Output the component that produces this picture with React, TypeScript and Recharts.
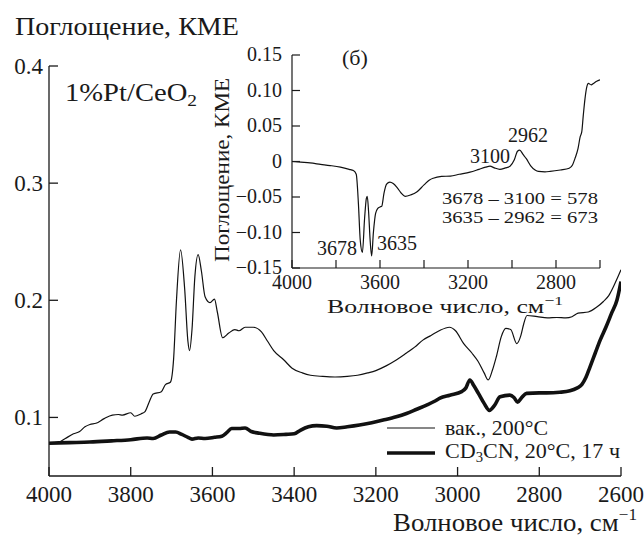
import React from 'react';
import { LineChart, Line, XAxis, YAxis } from 'recharts';

const SERIF = '"Liberation Serif", "Times New Roman", Times, serif';
const INK = '#1a1a1a';

// main chart: вак., 200°C (thin)
const vacX = [4000, 3975, 3960, 3940, 3925, 3912, 3900, 3885, 3865, 3845, 3830, 3820, 3800, 3790, 3775, 3765, 3755, 3745, 3725, 3715, 3703, 3695, 3688, 3678, 3668, 3660, 3656, 3650, 3643, 3635, 3627, 3618, 3606, 3595, 3588, 3575, 3560, 3545, 3535, 3520, 3500, 3480, 3465, 3450, 3425, 3405, 3380, 3360, 3330, 3300, 3270, 3245, 3220, 3200, 3175, 3150, 3125, 3105, 3085, 3065, 3045, 3020, 3005, 2985, 2965, 2950, 2935, 2925, 2915, 2905, 2893, 2882, 2870, 2855, 2845, 2838, 2830, 2805, 2780, 2757, 2735, 2720, 2705, 2680, 2660, 2643, 2630, 2618, 2600];
const vacY = [0.078, 0.079, 0.082, 0.086, 0.088, 0.092, 0.094, 0.095, 0.099, 0.102, 0.1025, 0.102, 0.104, 0.101, 0.103, 0.105, 0.113, 0.12, 0.122, 0.128, 0.13, 0.15, 0.2, 0.243, 0.21, 0.165, 0.157, 0.175, 0.22, 0.239, 0.225, 0.203, 0.198, 0.201, 0.19, 0.168, 0.172, 0.175, 0.174, 0.177, 0.177, 0.173, 0.165, 0.157, 0.149, 0.142, 0.138, 0.136, 0.135, 0.1345, 0.135, 0.136, 0.138, 0.14, 0.144, 0.149, 0.155, 0.16, 0.166, 0.17, 0.174, 0.177, 0.174, 0.163, 0.155, 0.148, 0.138, 0.132, 0.14, 0.152, 0.169, 0.176, 0.175, 0.163, 0.17, 0.18, 0.187, 0.186, 0.185, 0.1853, 0.185, 0.186, 0.189, 0.19, 0.194, 0.199, 0.204, 0.212, 0.226];

// main chart: CD3CN, 20°C, 17 ч (thick)
const cdX = [4000, 3950, 3900, 3847, 3800, 3760, 3745, 3725, 3705, 3690, 3675, 3660, 3650, 3635, 3618, 3595, 3577, 3565, 3553, 3535, 3520, 3505, 3485, 3450, 3420, 3400, 3385, 3365, 3345, 3320, 3296, 3270, 3240, 3210, 3182, 3150, 3125, 3100, 3076, 3055, 3043, 3019, 2990, 2980, 2970, 2960, 2949, 2935, 2922, 2910, 2896, 2872, 2862, 2853, 2843, 2831, 2800, 2782, 2750, 2725, 2708, 2696, 2686, 2676, 2663, 2651, 2637, 2623, 2610, 2600];
const cdY = [0.078, 0.0785, 0.079, 0.08, 0.081, 0.0825, 0.082, 0.085, 0.0875, 0.0875, 0.0855, 0.083, 0.0815, 0.0825, 0.082, 0.083, 0.084, 0.087, 0.0905, 0.0905, 0.091, 0.088, 0.0865, 0.085, 0.0855, 0.086, 0.089, 0.092, 0.093, 0.0925, 0.091, 0.092, 0.0935, 0.0955, 0.0977, 0.1005, 0.1034, 0.107, 0.1105, 0.114, 0.1165, 0.119, 0.122, 0.125, 0.132, 0.127, 0.1205, 0.112, 0.106, 0.11, 0.1176, 0.119, 0.117, 0.113, 0.117, 0.1205, 0.121, 0.121, 0.1215, 0.1227, 0.125, 0.128, 0.134, 0.143, 0.155, 0.166, 0.177, 0.189, 0.2, 0.216];

// inset (б): difference spectrum
const insX = [4000, 3960, 3918, 3870, 3827, 3780, 3740, 3721, 3708, 3698, 3690, 3680, 3670, 3662, 3658, 3652, 3645, 3638, 3630, 3620, 3610, 3600, 3592, 3582, 3570, 3555, 3540, 3524, 3505, 3486, 3460, 3433, 3400, 3375, 3358, 3320, 3280, 3240, 3191, 3150, 3120, 3100, 3080, 3055, 3030, 3009, 2990, 2975, 2965, 2950, 2935, 2915, 2895, 2880, 2850, 2827, 2780, 2740, 2725, 2714, 2700, 2690, 2683, 2676, 2668, 2660, 2653, 2640, 2630, 2615, 2600];
const insY = [0, -0.001, -0.002, -0.004, -0.0057, -0.008, -0.011, -0.0127, -0.018, -0.06, -0.11, -0.128, -0.08, -0.052, -0.049, -0.07, -0.11, -0.133, -0.1, -0.073, -0.066, -0.064, -0.063, -0.045, -0.032, -0.029, -0.031, -0.036, -0.044, -0.049, -0.047, -0.043, -0.033, -0.026, -0.0235, -0.021, -0.0205, -0.018, -0.015, -0.011, -0.008, -0.0066, -0.009, -0.011, -0.009, -0.0066, 0.002, 0.0145, 0.016, 0.01, 0.004, -0.006, -0.012, -0.014, -0.0145, -0.014, -0.012, -0.0095, -0.005, 0.004, 0.018, 0.035, 0.0416, 0.065, 0.089, 0.105, 0.11, 0.108, 0.11, 0.113, 0.115];

const mainXTicks = [4000, 3800, 3600, 3400, 3200, 3000, 2800, 2600];
const mainYTicks = [0.1, 0.2, 0.3, 0.4];
const insXTicks = [4000, 3800, 3600, 3400, 3200, 3000, 2800, 2600];
const insXLabels = [4000, 3600, 3200, 2800];
const insYTicks = [-0.15, -0.1, -0.05, 0, 0.05, 0.1, 0.15];
const insYLabels = ['−0.15', '−0.10', '−0.05', '0', '0.05', '0.10', '0.15'];

const zip = (xs: number[], ys: number[]) => xs.map((x, i) => ({ x, y: ys[i] }));
const vacData = zip(vacX, vacY);
const cdData = zip(cdX, cdY);
const insData = zip(insX, insY);

const txt = { fontFamily: SERIF, fill: INK };

const MainYTick = ({ x, y, payload }: any) => (
  <g>
    <line x1={x} y1={y} x2={x + 9} y2={y} stroke={INK} strokeWidth={1.3} />
    <text x={x - 6} y={y + 8} textAnchor="end" fontSize={23} style={txt}>
      {payload.value.toFixed(1)}
    </text>
  </g>
);

const MainXTick = ({ x, y, payload }: any) => (
  <g>
    <line x1={x} y1={y} x2={x} y2={y - 9} stroke={INK} strokeWidth={1.3} />
    <text x={x} y={y + 26} textAnchor="middle" fontSize={23} style={txt}>
      {payload.value}
    </text>
  </g>
);

const InsYTick = ({ x, y, payload }: any) => (
  <g>
    <line x1={x} y1={y} x2={x + 8} y2={y} stroke={INK} strokeWidth={1.2} />
    <text x={x - 10} y={y + 6} textAnchor="end" fontSize={20} style={txt}>
      {insYLabels[insYTicks.indexOf(payload.value)]}
    </text>
  </g>
);

const InsXTick = ({ x, y, payload }: any) => (
  <g>
    <line x1={x} y1={y} x2={x} y2={y - 8} stroke={INK} strokeWidth={1.2} />
    {insXLabels.includes(payload.value) && (
      <text x={x} y={y + 21} textAnchor="middle" fontSize={20} style={txt}>
        {payload.value}
      </text>
    )}
  </g>
);

export default function App() {
  return (
    <div style={{ position: 'absolute', left: 0, top: 0, width: 644, height: 537, background: '#fff', fontFamily: SERIF }}>
      <div style={{ position: 'absolute', left: 0, top: 0 }}>
        <LineChart width={644} height={537} margin={{ top: 66, right: 23, left: 0, bottom: 0 }}>
          <XAxis
            type="number"
            dataKey="x"
            domain={[2600, 4000]}
            reversed
            ticks={mainXTicks}
            tick={<MainXTick />}
            tickLine={false}
            tickSize={0}
            tickMargin={0}
            height={61}
            stroke={INK}
            strokeWidth={1.3}
            allowDataOverflow
          />
          <YAxis
            type="number"
            domain={[0.05, 0.4]}
            ticks={mainYTicks}
            tick={<MainYTick />}
            tickLine={false}
            tickSize={0}
            tickMargin={0}
            width={49}
            stroke={INK}
            strokeWidth={1.3}
            allowDataOverflow
          />
          <Line data={vacData} dataKey="y" type="monotone" stroke="#111" strokeWidth={1.2} dot={false} isAnimationActive={false} />
          <Line data={cdData} dataKey="y" type="monotone" stroke="#111" strokeWidth={3.6} dot={false} isAnimationActive={false} />
        </LineChart>
      </div>

      <div style={{ position: 'absolute', left: 200, top: 40 }}>
        <LineChart width={420} height={290} margin={{ top: 15, right: 20, left: 0, bottom: 0 }}>
          <XAxis
            type="number"
            dataKey="x"
            domain={[2600, 4000]}
            reversed
            ticks={insXTicks}
            tick={<InsXTick />}
            tickLine={false}
            tickSize={0}
            tickMargin={0}
            height={62}
            stroke={INK}
            strokeWidth={1.2}
            allowDataOverflow
          />
          <YAxis
            type="number"
            domain={[-0.15, 0.15]}
            ticks={insYTicks}
            tick={<InsYTick />}
            tickLine={false}
            tickSize={0}
            tickMargin={0}
            width={92}
            stroke={INK}
            strokeWidth={1.2}
            allowDataOverflow
          />
          <Line data={insData} dataKey="y" type="monotone" stroke="#111" strokeWidth={1.2} dot={false} isAnimationActive={false} />
        </LineChart>
      </div>

      <svg width={644} height={537} style={{ position: 'absolute', left: 0, top: 0, pointerEvents: 'none' }}>
        <g style={txt}>
          <text x={15} y={35} fontSize={25} textLength={224} lengthAdjust="spacingAndGlyphs">Поглощение, КМЕ</text>
          <text x={65} y={101} fontSize={25} textLength={132} lengthAdjust="spacingAndGlyphs">
            1%Pt/CeO<tspan fontSize={17} dy={5}>2</tspan>
          </text>
          <text x={393} y={531} fontSize={25} textLength={244} lengthAdjust="spacingAndGlyphs">
            Волновое число, см<tspan fontSize={16} dy={-11}>−1</tspan>
          </text>

          <text x={342} y={65} fontSize={22}>(б)</text>
          <text x={229} y={170} fontSize={21} textAnchor="middle" textLength={184} lengthAdjust="spacingAndGlyphs" transform="rotate(-90 229 170)">
            Поглощение, КМЕ
          </text>
          <text x={327} y={313} fontSize={19} textLength={236} lengthAdjust="spacingAndGlyphs">
            Волновое число, см<tspan fontSize={13} dy={-8}>−1</tspan>
          </text>
          <text x={337} y={255} fontSize={20} textAnchor="middle">3678</text>
          <text x={397} y={250} fontSize={20} textAnchor="middle">3635</text>
          <text x={490} y={163} fontSize={20} textAnchor="middle">3100</text>
          <text x={528} y={142} fontSize={20} textAnchor="middle">2962</text>
          <text x={442} y={204} fontSize={17} textLength={156} lengthAdjust="spacingAndGlyphs">3678 – 3100 = 578</text>
          <text x={442} y={223} fontSize={17} textLength={156} lengthAdjust="spacingAndGlyphs">3635 – 2962 = 673</text>

          <line x1={387} y1={428} x2={435} y2={428} stroke="#111" strokeWidth={1.2} />
          <text x={445} y={435} fontSize={21} textLength={103} lengthAdjust="spacingAndGlyphs">вак., 200°C</text>
          <line x1={387} y1={453} x2={435} y2={453} stroke="#111" strokeWidth={3.6} />
          <text x={445} y={458} fontSize={21} textLength={175} lengthAdjust="spacingAndGlyphs">
            CD<tspan fontSize={14} dy={4}>3</tspan><tspan dy={-4}>CN, 20°C, 17 ч</tspan>
          </text>
        </g>
      </svg>
    </div>
  );
}
